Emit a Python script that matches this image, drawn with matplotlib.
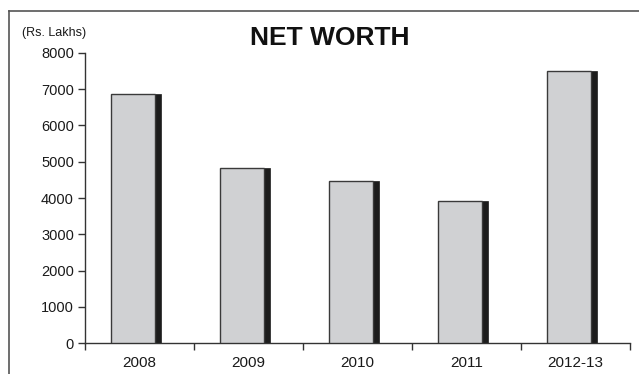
import matplotlib
matplotlib.use("Agg")
import matplotlib.pyplot as plt
from matplotlib.lines import Line2D
import numpy as np

categories = ["2008", "2009", "2010", "2011", "2012-13"]
net_worth = [6870, 4820, 4470, 3920, 7500]
y_ticks = [0, 1000, 2000, 3000, 4000, 5000, 6000, 7000, 8000]

plt.rcParams['font.family'] = ['Liberation Sans', 'DejaVu Sans']

fig = plt.figure(figsize=(6.39, 3.74), dpi=100)
W, H = 639, 374
ax = fig.add_axes([85 / W, 1 - 343.3 / H, (630 - 85) / W, (343.3 - 52.7) / H])

x = np.arange(len(categories))
gray_left = -0.261
gray_w = 0.403
shadow_w = 0.055
ax.bar(x + gray_left + gray_w, net_worth, width=shadow_w, align='edge',
       color='#1c1c1c', edgecolor='#1c1c1c', linewidth=0.5, zorder=2)
ax.bar(x + gray_left, net_worth, width=gray_w, align='edge',
       color='#d0d1d3', edgecolor='#3a3a3a', linewidth=1.0, zorder=3)

ax.set_xlim(-0.5, len(categories) - 0.5)
ax.set_ylim(0, 8000)
ax.set_yticks(y_ticks)
ax.set_yticklabels([str(v) for v in y_ticks], fontsize=10.5, color='#1a1a1a')
ax.set_xticks(x)
ax.set_xticklabels(categories, fontsize=11, color='#1a1a1a')
ax.tick_params(axis='x', length=0, pad=9)
ax.set_xticks(np.arange(-0.5, len(categories), 1.0), minor=True)
ax.tick_params(axis='x', which='minor', length=5, width=1, color='#333333', direction='out')
ax.tick_params(axis='y', length=5, width=1, color='#333333', pad=3)

for s in ['top', 'right']:
    ax.spines[s].set_visible(False)
for s in ['left', 'bottom']:
    ax.spines[s].set_color('#333333')
    ax.spines[s].set_linewidth(1.0)

fig.text(330 / W, 1 - 38 / H, "NET WORTH", fontsize=19, fontweight='bold',
         ha='center', va='center', color='#111111')
fig.text(22 / W, 1 - 33 / H, "(Rs. Lakhs)", fontsize=9, ha='left', va='center',
         color='#1a1a1a')

# Outer frame lines (top and left)
fig.add_artist(Line2D([9 / W, 1.0], [1 - 10.7 / H, 1 - 10.7 / H],
                      transform=fig.transFigure, color='#555555', linewidth=1.2))
fig.add_artist(Line2D([9 / W, 9 / W], [0, 1 - 10.7 / H],
                      transform=fig.transFigure, color='#555555', linewidth=1.2))

fig.savefig("out.png", dpi=100)
